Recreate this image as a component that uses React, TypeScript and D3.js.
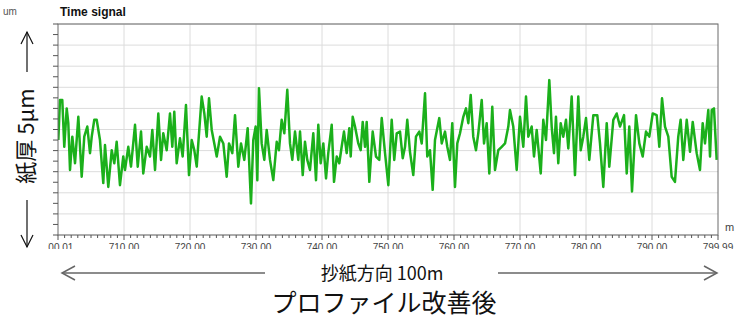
import React from "react";
import * as d3 from "d3";

// Position along machine direction (m)
const positions: number[] = [
  700.05, 700.3, 700.65, 700.95, 701.32, 701.56, 701.82, 702.17, 702.58, 703.08, 703.59, 703.98, 704.44, 704.85, 705.11, 705.5, 705.86, 706.36, 706.86, 707.12,
  707.62, 708.14, 708.53, 708.89, 709.39, 709.89, 710.15, 710.65, 711.06, 711.67, 712.08, 712.58, 712.92, 713.44, 713.94, 714.29, 714.7, 715.2, 715.61, 715.95,
  716.47, 716.97, 717.32, 717.62, 717.98, 718.48, 718.89, 719.39, 719.85, 720.26, 720.65, 721.02, 721.26, 721.77, 722.17, 722.53, 722.88, 723.29, 723.68, 724.05,
  724.55, 725.05, 725.56, 725.91, 726.41, 726.82, 727.32, 727.73, 728.23, 728.74, 729.24, 729.59, 729.95, 730.2, 730.45, 730.86, 731.26, 731.62, 732.12, 732.62,
  733.14, 733.48, 733.89, 734.29, 734.74, 735.15, 735.5, 735.91, 736.41, 736.67, 737.08, 737.42, 737.77, 738.18, 738.68, 739.09, 739.44, 739.8, 740.2, 740.61,
  740.95, 741.47, 741.82, 742.23, 742.62, 742.98, 743.33, 743.74, 744.14, 744.35, 744.65, 745.0, 745.5, 745.86, 746.17, 746.52, 746.77, 747.17, 747.68, 748.18,
  748.68, 749.05, 749.55, 750.05, 750.56, 750.95, 751.32, 751.82, 752.23, 752.58, 752.92, 753.33, 753.83, 754.24, 754.74, 755.11, 755.61, 755.95, 756.36, 756.77,
  757.12, 757.77, 758.14, 758.64, 758.98, 759.39, 759.74, 760.15, 760.5, 760.91, 761.41, 761.82, 762.17, 762.53, 762.92, 763.33, 763.68, 764.2, 764.55, 764.95,
  765.35, 765.8, 766.21, 766.71, 767.23, 767.73, 768.23, 768.48, 768.98, 769.5, 770.0, 770.5, 770.91, 771.26, 771.77, 772.12, 772.53, 773.14, 773.53, 773.94,
  774.44, 774.8, 775.15, 775.45, 775.8, 776.17, 776.56, 776.97, 777.32, 777.83, 778.33, 778.83, 779.2, 779.59, 780.0, 780.5, 781.11, 781.71, 782.12, 782.62,
  783.14, 783.53, 784.14, 784.65, 785.15, 785.76, 786.17, 786.56, 786.97, 787.58, 788.08, 788.59, 789.09, 789.59, 790.11, 790.71, 791.11, 791.52, 791.97, 792.47,
  792.98, 793.48, 793.98, 794.34, 794.74, 795.26, 795.76, 796.17, 796.77, 797.27, 797.68, 798.03, 798.53, 798.79, 799.05, 799.39, 799.8,
];

// Thickness deviation (um)
const thickness: number[] = [
  -0.25, 0.7, 0.7, -0.41, 0.5, 0.15, -0.96, -0.17, -0.8, 0.3, -1.12, -0.17, 0.07, -0.56, -0.17, 0.23, 0.23, -0.25, -1.27, -0.37,
  -1.36, -0.49, -0.8, -0.29, -1.32, -0.64, -0.96, -0.41, -0.88, 0.11, -0.88, -0.05, -1.04, -0.41, -0.64, -0.01, -0.96, 0.38, -0.72, -0.09,
  -0.49, 0.38, -0.41, 0.42, -0.8, -0.21, -0.64, 0.58, -1.08, -0.25, -0.49, -0.88, -0.33, 0.78, 0.38, -0.17, 0.74, -0.01, -0.33, -0.64,
  -0.17, -0.33, -1.12, -0.33, -0.56, 0.34, -0.88, -0.33, -0.72, 0.03, -1.75, -0.25, 0.07, -1.2, 0.98, -0.33, -0.72, -0.01, -0.72, -1.2,
  -0.29, -0.49, 0.23, -0.09, 0.94, -0.33, -0.72, -0.05, -0.72, -0.05, -1.08, -0.29, -0.72, -0.96, -0.09, -1.2, 0.11, -0.8, -0.33, -1.16,
  -0.56, 0.11, -1.24, -0.64, -0.8, -0.41, -0.05, -0.56, 0.03, -0.64, 0.3, 0.07, -0.33, -0.49, 0.18, -0.41, 0.18, -1.24, -0.05, -0.64,
  -0.72, 0.27, -0.56, -1.32, 0.23, -0.72, -0.09, -0.05, -0.68, -0.41, 0.23, -0.53, -1.08, -0.17, -0.05, -0.33, 0.86, -0.64, -0.49, -1.43,
  -0.25, 0.27, -0.33, -0.05, -0.41, -0.72, 0.15, -1.36, -0.33, -0.09, 0.3, 0.5, 0.15, 0.82, -0.17, -0.49, -0.09, 0.7, -0.33, 0.15,
  -1.04, 0.54, -0.96, -0.49, -0.41, -0.33, 0.07, 0.46, 0.07, -0.96, 0.3, -0.41, 0.78, -0.17, 0.07, -0.64, -0.01, -1.04, 0.23, -0.25,
  1.17, 0.07, -0.56, 0.3, -0.8, 0.15, -0.17, 0.23, -0.45, 0.78, -1.08, 0.78, -0.49, -0.17, 0.27, -0.72, 0.34, 0.34, -0.33, -1.36,
  0.15, -0.88, 0.23, 0.38, 0.07, 0.34, -1.04, 0.07, -1.47, 0.34, -0.33, -0.64, -0.05, -0.17, 0.38, 0.34, -0.41, 0.74, 0.07, -0.17,
  -1.12, -1.24, -0.17, 0.23, -0.72, 0.23, -0.53, 0.18, -0.56, -0.96, 0.15, -0.33, 0.46, -0.64, 0.46, 0.5, -0.72,
];

const xTickValues: number[] = [700.01, 710, 720, 730, 740, 750, 760, 770, 780, 790, 799.99];
const xTickLabels: string[] = ["700.01", "710.00", "720.00", "730.00", "740.00", "750.00", "760.00", "770.00", "780.00", "790.00", "799.99"];

const PL = 58, PR = 718, PT = 24, PB = 235;

export default function App() {
  const x = d3.scaleLinear().domain([700, 800]).range([PL, PR]);
  const y = d3.scaleLinear().domain([-2.5, 2.5]).range([PB, PT]);

  const pts = positions.map((p, i) => [p, thickness[i]] as [number, number]);
  const line = d3.line<[number, number]>().x((d) => x(d[0])).y((d) => y(d[1]));

  const hGrid = d3.range(-2.5, 2.51, 0.5);
  const yMinor = d3.range(-2.5, 2.51, 0.25);
  const vGrid = d3.range(710, 800, 10);
  const xMinor = d3.range(700, 800.01, 1);

  const sans = "'Liberation Sans', Arial, sans-serif";
  const cjk = "'Noto Sans CJK JP', 'Noto Sans', sans-serif";

  return (
    <svg
      width={738}
      height={330}
      style={{ position: "absolute", left: 0, top: 0, background: "#fff" }}
      xmlns="http://www.w3.org/2000/svg"
    >
      <defs>
        <clipPath id="xlab">
          <rect x={48} y={238} width={690} height={11} />
        </clipPath>
        <clipPath id="plot">
          <rect x={PL} y={PT} width={PR - PL} height={PB - PT} />
        </clipPath>
      </defs>
      <rect x={0} y={0} width={738} height={330} fill="#fff" />

      {/* grid */}
      {hGrid.map((v, i) => (
        <line key={"h" + i} x1={PL} x2={PR} y1={y(v)} y2={y(v)} stroke="#dcdcdc" strokeWidth={1} />
      ))}
      {vGrid.map((v, i) => (
        <line key={"v" + i} x1={x(v)} x2={x(v)} y1={PT} y2={PB} stroke="#dcdcdc" strokeWidth={1} />
      ))}

      {/* data */}
      <path
        d={line(pts) || ""}
        fill="none"
        stroke="#1bb01b"
        strokeWidth={2.5}
        strokeLinejoin="round"
        clipPath="url(#plot)"
      />

      {/* frame */}
      <rect x={PL} y={PT} width={PR - PL} height={PB - PT} fill="none" stroke="#6a6a6a" strokeWidth={1} />

      {/* y ticks */}
      {yMinor.map((v, i) => (
        <line key={"yt" + i} x1={PL - 5} x2={PL} y1={y(v)} y2={y(v)} stroke="#555" strokeWidth={1} />
      ))}

      {/* x ticks */}
      {xMinor.map((v, i) => {
        const major = Math.round(v) % 10 === 0;
        return (
          <line
            key={"xt" + i}
            x1={x(v)}
            x2={x(v)}
            y1={PB}
            y2={PB + (major ? 5 : 3)}
            stroke="#555"
            strokeWidth={1}
          />
        );
      })}

      <g clipPath="url(#xlab)">
        {xTickValues.map((v, i) => (
          <text
            key={"xl" + i}
            x={x(v)}
            y={251}
            textAnchor="middle"
            fontFamily={sans}
            fontSize={10}
            fill="#444"
          >
            {xTickLabels[i]}
          </text>
        ))}
      </g>

      <text x={725} y={231} fontFamily={sans} fontSize={11} fill="#444">m</text>
      <text x={3} y={15} fontFamily={sans} fontSize={10} fill="#555">um</text>
      <text x={60} y={16} fontFamily={sans} fontSize={12} fontWeight="bold" fill="#111">Time signal</text>

      {/* left vertical annotation */}
      <g stroke="#111" strokeWidth={1.2} fill="none">
        <line x1={27} x2={27} y1={32} y2={72} />
        <polyline points="21,44 27,32 33,44" />
        <line x1={27} x2={27} y1={200} y2={247} />
        <polyline points="21,235 27,247 33,235" />
      </g>
      <text
        transform="translate(34,136) rotate(-90)"
        textAnchor="middle"
        fontFamily={cjk}
        fontSize={22}
        fill="#111"
      >
        紙厚 5μm
      </text>

      {/* bottom annotation */}
      <g stroke="#666" strokeWidth={1.5} fill="none">
        <line x1={62} x2={265} y1={273} y2={273} />
        <polyline points="75,266 62,273 75,280" />
        <line x1={498} x2={717} y1={273} y2={273} />
        <polyline points="704,266 717,273 704,280" />
      </g>
      <text x={382} y={280} textAnchor="middle" fontFamily={cjk} fontSize={18} fill="#111">
        抄紙方向 100m
      </text>
      <text x={384} y={312} textAnchor="middle" fontFamily={cjk} fontSize={25} fill="#111">
        プロファイル改善後
      </text>
    </svg>
  );
}
